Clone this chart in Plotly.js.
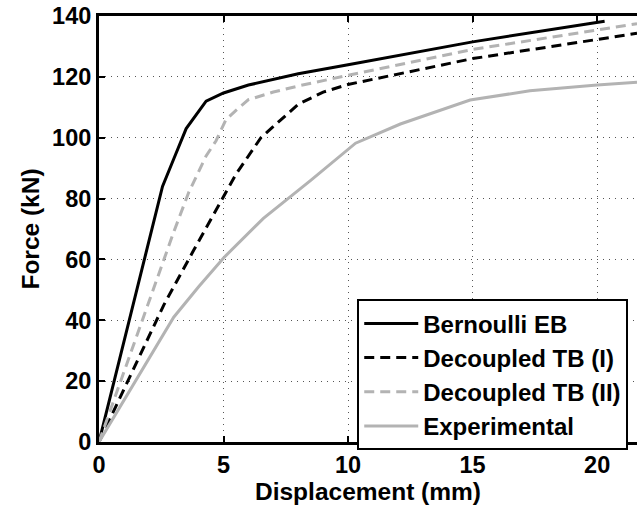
<!DOCTYPE html>
<html>
<head>
<meta charset="utf-8">
<script src="https://cdn.plot.ly/plotly-3.0.1.min.js"></script>
<style>html,body{margin:0;padding:0;background:#fff;}#chart{width:637px;height:508px;}</style>
</head>
<body>
<div id="chart"></div>
<script>
// Displacement (mm) / Force (kN)
const ebX = [0, 2.55, 3.0, 3.5, 4.3, 5.0, 6.0, 8.0, 10.0, 15.0, 20.3];
const ebY = [0, 84, 93, 103, 112, 114.7, 117.3, 121, 124, 131.5, 138.3];

const tb1X = [0, 2.6, 3.8, 4.9, 5.5, 6.5, 7.3, 8.0, 9.0, 10.0, 15.0, 20.0, 21.6];
const tb1Y = [0, 45, 63, 79.5, 88, 100, 106, 111, 115, 117.5, 126, 132.2, 134.3];

const tb2X = [0, 3.0, 3.6, 4.3, 4.7, 5.1, 5.5, 6.0, 7.0, 8.0, 10.0, 15.0, 20.0, 21.6];
const tb2Y = [0, 69, 82, 94, 99, 106, 109, 112.5, 115, 117, 120.5, 129, 135.4, 137.5];

const expX = [0, 3.0, 4.0, 5.0, 6.6, 8.5, 10.3, 12.1, 14.9, 17.3, 20.0, 21.6];
const expY = [0, 41, 51, 60.5, 73.5, 86, 98.2, 104.5, 112.4, 115.4, 117.3, 118.2];

const names = ['Bernoulli EB', 'Decoupled TB (I)', 'Decoupled TB (II)', 'Experimental'];
const xTicks = [0, 5, 10, 15, 20];
const yTicks = [0, 20, 40, 60, 80, 100, 120, 140];

const GRAY = '#b3b3b3';
const FONT = 'Liberation Sans, Arial, Helvetica, sans-serif';

const traces = [
  {x: ebX, y: ebY, name: names[0], mode: 'lines', line: {color: '#000000', width: 3, dash: 'solid'}},
  {x: tb1X, y: tb1Y, name: names[1], mode: 'lines', line: {color: '#000000', width: 3, dash: '10px,6px'}},
  {x: tb2X, y: tb2Y, name: names[2], mode: 'lines', line: {color: GRAY, width: 3, dash: '10px,6px'}},
  {x: expX, y: expY, name: names[3], mode: 'lines', line: {color: GRAY, width: 3, dash: 'solid'}}
];

const layout = {
  width: 637, height: 508,
  margin: {l: 99, r: 0, t: 16, b: 66},
  paper_bgcolor: '#ffffff', plot_bgcolor: '#ffffff',
  font: {family: FONT, size: 24, color: '#000000', weight: 'bold'},
  showlegend: true,
  legend: {
    x: 0.48, y: 0.335, xanchor: 'left', yanchor: 'top',
    bgcolor: '#ffffff', bordercolor: '#000000', borderwidth: 2,
    font: {family: FONT, size: 24, color: '#000000', weight: 'bold'},
    itemwidth: 54,
    tracegroupgap: 0
  },
  xaxis: {
    range: [0, 21.6], tickvals: xTicks, ticktext: xTicks.map(String),
    ticks: 'inside', ticklen: 6, tickwidth: 2, tickcolor: '#000',
    showline: true, linecolor: '#000', linewidth: 3, mirror: 'ticks',
    showgrid: true, gridcolor: '#555', griddash: '1px,5px', gridwidth: 1,
    zeroline: false,
    tickfont: {family: FONT, size: 23.5, color: '#000', weight: 'bold'},
    title: {text: 'Displacement (mm)', font: {family: FONT, size: 24.5, color: '#000', weight: 'bold'}, standoff: 2}
  },
  yaxis: {
    range: [0, 140], tickvals: yTicks, ticktext: yTicks.map(String),
    ticks: 'inside', ticklen: 6, tickwidth: 2, tickcolor: '#000',
    showline: true, linecolor: '#000', linewidth: 3, mirror: false,
    showgrid: true, gridcolor: '#555', griddash: '1px,5px', gridwidth: 1,
    zeroline: false,
    tickfont: {family: FONT, size: 23.5, color: '#000', weight: 'bold'},
    title: {text: 'Force (kN)', font: {family: FONT, size: 24.5, color: '#000', weight: 'bold'}, standoff: 6}
  }
};

Plotly.newPlot('chart', traces, layout, {staticPlot: true, displayModeBar: false});
</script>
</body>
</html>
